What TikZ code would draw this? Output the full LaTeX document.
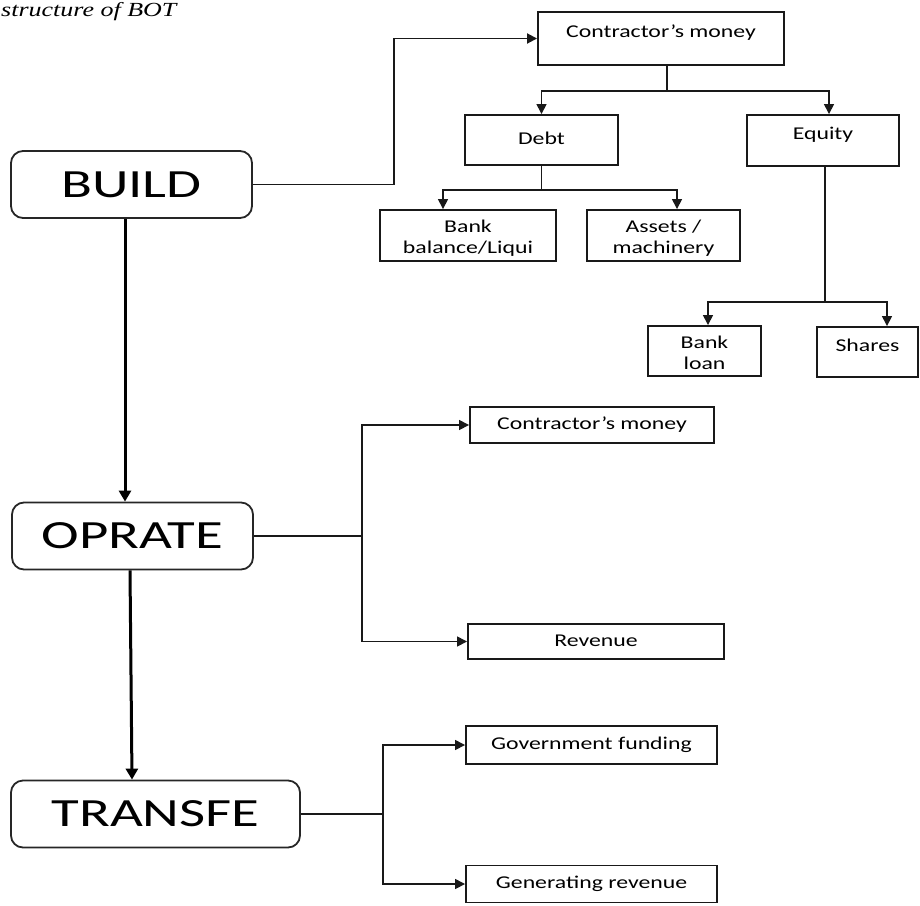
\documentclass[tikz,border=0pt]{standalone}
\usepackage{fontspec}
\setmainfont{Carlito}[FakeStretch=1.32]
\newfontfamily\stagefont{Carlito}[FakeStretch=1.42]
\newfontfamily\titlefont{Liberation Serif}[FakeStretch=1.3]
\usepackage{tikz}
\usetikzlibrary{arrows.meta, positioning}

\begin{document}
\begin{tikzpicture}[
    x=1pt, y=-1pt,
    stage/.style={rectangle, draw=black!85, line width=1.8pt, rounded corners=12pt, minimum width=241pt, minimum height=67pt, inner sep=0pt, font=\stagefont\fontsize{40}{44}\selectfont},
    leaf/.style={rectangle, draw=black!90, line width=1.9pt, minimum width=153pt, minimum height=50pt, inner sep=0pt, text height=13pt, text depth=4pt, font=\fontsize{18}{22}\selectfont},
    hi/.style={text depth=15pt},
    txt/.style={inner sep=0pt, align=center, font=\fontsize{18}{21}\selectfont},
    link/.style={draw=black!90, line width=1.5pt},
    arr/.style={link, -{Triangle[length=10pt, width=10pt]}},
    main/.style={draw=black, line width=3pt, -{Triangle[length=11pt, width=12pt]}}
]
    \useasboundingbox (0,0) rectangle (920,905);

    % Caption
    \node[anchor=base west, inner sep=0pt, font=\titlefont\itshape\fontsize{20}{24}\selectfont] (title) at (1,16) {structure of BOT};

    % Stages
    \node[stage] (build) at (131.5,184.5) {BUILD};
    \node[stage] (oprate) at (132.5,536) {OPRATE};
    \node[stage, minimum width=289pt] (transfe) at (155.5,814) {TRANSFE};

    % Financing tree
    \node[leaf, hi, minimum width=246pt, minimum height=53pt] (cmTop) at (661,38.5) {Contractor’s money};
    \node[leaf] (debt) at (541.5,140) {Debt};
    \node[leaf, hi, minimum width=152pt, minimum height=51pt] (equity) at (823,140.5) {Equity};
    \node[leaf, minimum width=176pt, minimum height=51pt] (bal) at (468,235.5) {};
    \node[leaf, minimum height=51pt] (assets) at (663.5,235.5) {};
    \node[leaf, minimum width=113pt] (loan) at (704.5,351) {};
    \node[leaf, hi, minimum width=101pt] (shares) at (867.5,352) {Shares};

    % two-line labels, cut short above the bottom edge
    \begin{scope}
        \clip ([yshift=6pt]bal.south west) rectangle (bal.north east);
        \node[txt, anchor=north] (balText) at ([yshift=-11pt]bal.north) {Bank\\balance/Liqui};
    \end{scope}
    \begin{scope}
        \clip ([yshift=6pt]assets.south west) rectangle (assets.north east);
        \node[txt, anchor=north] (assetsText) at ([yshift=-11pt]assets.north) {Assets /\\machinery};
    \end{scope}
    \begin{scope}
        \clip ([yshift=6pt]loan.south west) rectangle (loan.north east);
        \node[txt, anchor=north] (loanText) at ([yshift=-11pt]loan.north) {Bank\\loan};
    \end{scope}

    % Operate and transfer outputs
    \node[leaf, minimum width=244pt, minimum height=36pt] (opMoney) at (592,425) {Contractor’s money};
    \node[leaf, minimum width=256pt, minimum height=35pt] (revenue) at (596,641.5) {Revenue};
    \node[leaf, minimum width=251pt, minimum height=38pt] (govFund) at (591.5,745) {Government funding};
    \node[leaf, minimum width=251pt, minimum height=37pt] (genRev) at (591.5,884) {Generating revenue};

    % Connectors
    \draw[arr, line width=1.8pt] (build.east) -| ([xshift=-143pt]cmTop.west) -- (cmTop.west);

    \draw[link] ([xshift=6pt]cmTop.south) -- ++(0,25) coordinate (cmSplit);
    \draw[arr] (cmSplit) -| (debt.north);
    \draw[arr] (cmSplit) -| ([xshift=6pt]equity.north);

    \draw[link] (debt.south) -- ++(0,24) coordinate (debtSplit);
    \draw[arr] (debtSplit) -| ([xshift=-25pt]bal.north);
    \draw[arr] (debtSplit) -| ([xshift=13.5pt]assets.north);

    \draw[link] ([xshift=2pt]equity.south) -- ++(0,135) coordinate (eqSplit);
    \draw[arr] (eqSplit) -| ([xshift=3.5pt]loan.north);
    \draw[arr] (eqSplit) -| ([xshift=19.5pt]shares.north);

    \draw[main] ([xshift=-6.5pt]build.south) -- ([xshift=-7.5pt]oprate.north);
    \draw[main] ([xshift=-2.5pt]oprate.south) -- ([xshift=-23.5pt]transfe.north);

    \draw[link, line width=1.8pt] (oprate.east) -- ++(108,0) coordinate (opSplit);
    \draw[arr] (opSplit) |- (opMoney.west);
    \draw[arr] (opSplit) |- (revenue.west);

    \draw[link, line width=1.8pt] (transfe.east) -- ++(82,0) coordinate (trSplit);
    \draw[arr] (trSplit) |- (govFund.west);
    \draw[arr] (trSplit) |- (genRev.west);
\end{tikzpicture}
\end{document}
